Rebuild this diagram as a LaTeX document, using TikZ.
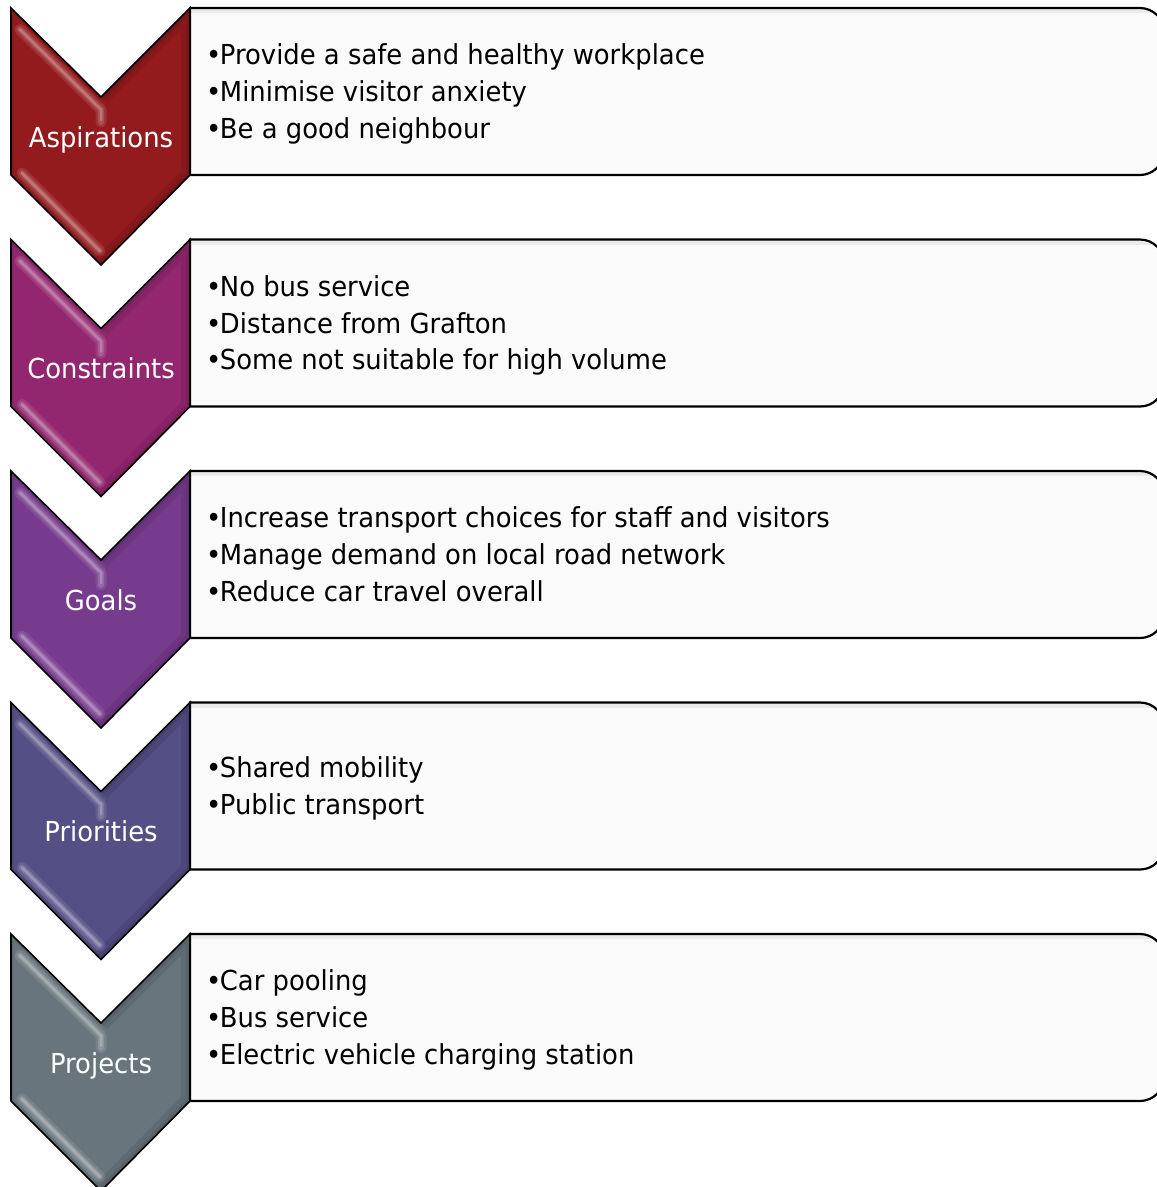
\documentclass[tikz,border=0pt]{standalone}
\usepackage{fontspec}
\setmainfont{DejaVu Sans}[FakeStretch=0.94]
\definecolor{aspcol}{HTML}{931B1E}
\definecolor{concol}{HTML}{93276F}
\definecolor{goalcol}{HTML}{763B8C}
\definecolor{pricol}{HTML}{544F84}
\definecolor{projcol}{HTML}{68757C}
\definecolor{boxfill}{HTML}{FAFAFA}
\newcommand\bul{•\kern-1.5pt}
\begin{document}
\begin{tikzpicture}[x=1pt,y=-1pt,
  chevedge/.style={draw=black, line width=1.6pt, line join=miter},
  infobox/.style={draw=black, line width=2.2pt, fill=boxfill},
  boxtext/.style={anchor=base west, inner sep=0pt, font=\fontsize{27.5}{33}\selectfont, text=black},
  chevlabel/.style={anchor=base, inner sep=0pt, font=\fontsize{27.5}{33}\selectfont, text=white},
  shine/.style={white, line cap=round, line join=round},
]
\useasboundingbox (0,0) rectangle (1157,1187);
\clip (0,0) rectangle (1157,1187);

% one step = text panel + chevron
\foreach \t/\c in {8/aspcol, 239.5/concol, 471/goalcol, 702.5/pricol, 934/projcol} {
  % text panel, square on the left, rounded on the right
  \draw[infobox] (190,\t) -- (1140,\t) arc(-90:0:24) -- (1164,\t+143) arc(0:90:24)
        -- (190,\t+167) -- cycle;
  \begin{scope}
    \clip (190,\t) -- (1140,\t) arc(-90:0:24) -- (1164,\t+143) arc(0:90:24)
        -- (190,\t+167) -- cycle;
    \draw[black, opacity=0.06, line width=10pt] (190,\t) -- (1164,\t);
  \end{scope}
  % chevron body with bevel shading
  \begin{scope}
    \clip (11,\t) -- (101,\t+89) -- (190,\t) -- (190,\t+167) -- (101,\t+257) -- (11,\t+167) -- cycle;
    \fill[\c] (0,\t-10) rectangle (200,\t+270);
    \draw[black, opacity=0.08, line width=18pt]
      (101,\t+89) -- (190,\t) -- (190,\t+167) -- (101,\t+257);
    \draw[black, opacity=0.08, line width=8pt]
      (101,\t+89) -- (190,\t) -- (190,\t+167) -- (101,\t+257);
    \draw[black, opacity=0.06, line width=6pt]
      (11,\t) -- (101,\t+89) (11,\t) -- (11,\t+167) -- (101,\t+257);
    % highlight stripes along the left edges
    \draw[shine, opacity=0.10, line width=11pt] (20,\t+21.5) -- (101,\t+101.5) -- (101,\t+114);
    \draw[shine, opacity=0.15, line width=6pt] (20,\t+21.5) -- (101,\t+101.5) -- (101,\t+114);
    \draw[shine, opacity=0.22, line width=2.5pt] (20,\t+21.5) -- (101,\t+101.5) -- (101,\t+112);
    \draw[shine, opacity=0.10, line width=11pt] (22,\t+165) -- (100,\t+243);
    \draw[shine, opacity=0.15, line width=6pt] (22,\t+165) -- (100,\t+243);
    \draw[shine, opacity=0.22, line width=2.5pt] (22,\t+165) -- (100,\t+243);
  \end{scope}
  \draw[chevedge] (11,\t) -- (101,\t+89) -- (190,\t) -- (190,\t+167) -- (101,\t+257) -- (11,\t+167) -- cycle;
}

% step labels
\node[chevlabel] (asp)  at (101,147)    {Aspirations};
\node[chevlabel] (con)  at (101,378.5)  {Constraints};
\node[chevlabel] (goal) at (101,610)    {Goals};
\node[chevlabel] (pri)  at (101,841.5)  {Priorities};
\node[chevlabel] (proj) at (101,1073)   {Projects};

% panel contents
\node[boxtext] (a1) at (206,64.8)  {\bul Provide a safe and healthy workplace};
\node[boxtext] (a2) at (206,101.5) {\bul Minimise visitor anxiety};
\node[boxtext] (a3) at (206,138.2) {\bul Be a good neighbour};

\node[boxtext] (c1) at (206,296.3) {\bul No bus service};
\node[boxtext] (c2) at (206,333)   {\bul Distance from Grafton};
\node[boxtext] (c3) at (206,369.7) {\bul Some not suitable for high volume};

\node[boxtext] (g1) at (206,527.8) {\bul Increase transport choices for staff and visitors};
\node[boxtext] (g2) at (206,564.5) {\bul Manage demand on local road network};
\node[boxtext] (g3) at (206,601.2) {\bul Reduce car travel overall};

\node[boxtext] (p1) at (206,777.7) {\bul Shared mobility};
\node[boxtext] (p2) at (206,814.4) {\bul Public transport};

\node[boxtext] (j1) at (206,990.8)  {\bul Car pooling};
\node[boxtext] (j2) at (206,1027.5) {\bul Bus service};
\node[boxtext] (j3) at (206,1064.2) {\bul Electric vehicle charging station};
\end{tikzpicture}
\end{document}
